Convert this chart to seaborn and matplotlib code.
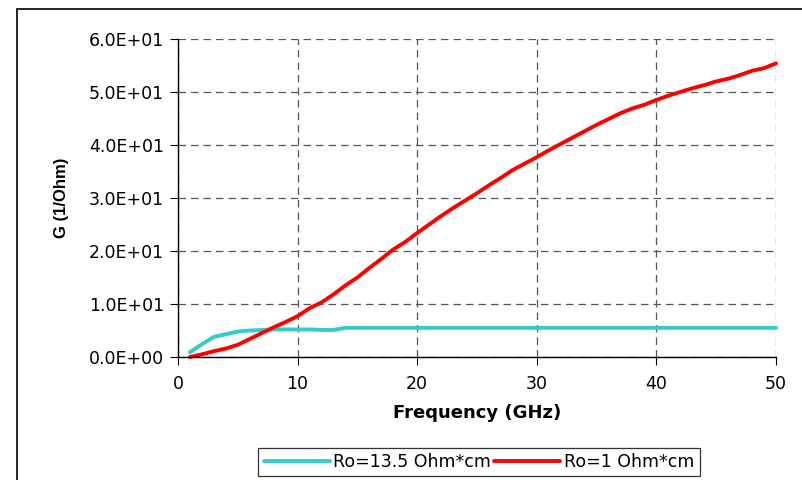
import numpy as np
import pandas as pd
import matplotlib
matplotlib.use("Agg")
import matplotlib.pyplot as plt
import seaborn as sns
from matplotlib.patches import Rectangle
from matplotlib.ticker import FuncFormatter

# Frequency points (GHz)
freq = list(range(1, 51))

# Ro = 13.5 Ohm*cm
g_high = [0.9, 2.4, 3.8, 4.3, 4.8, 5.0, 5.1, 5.2, 5.2, 5.2,
          5.2, 5.1, 5.1, 5.5, 5.5, 5.5, 5.5, 5.5, 5.5, 5.5,
          5.5, 5.5, 5.5, 5.5, 5.5, 5.5, 5.5, 5.5, 5.5, 5.5,
          5.5, 5.5, 5.5, 5.5, 5.5, 5.5, 5.5, 5.5, 5.5, 5.5,
          5.5, 5.5, 5.5, 5.5, 5.5, 5.5, 5.5, 5.5, 5.5, 5.5]

# Ro = 1 Ohm*cm
g_low = [0.0, 0.5, 1.1, 1.6, 2.3, 3.4, 4.5, 5.6, 6.6, 7.7,
         9.2, 10.3, 11.8, 13.5, 15.0, 16.8, 18.5, 20.3, 21.7, 23.4,
         25.0, 26.6, 28.1, 29.5, 30.9, 32.4, 33.8, 35.3, 36.5, 37.7,
         39.0, 40.2, 41.4, 42.6, 43.8, 44.9, 46.0, 46.9, 47.6, 48.5,
         49.3, 50.0, 50.7, 51.3, 52.0, 52.5, 53.2, 54.0, 54.5, 55.4]

labels = ["Ro=13.5 Ohm*cm", "Ro=1 Ohm*cm"]
colors = ["#33CCCC", "#FF0000"]

df = pd.concat([
    pd.DataFrame({"f": freq, "G": g_high, "series": labels[0]}),
    pd.DataFrame({"f": freq, "G": g_low, "series": labels[1]}),
])

sns.set_style("white")
plt.rcParams["font.family"] = ["DejaVu Sans"]
plt.rcParams.update({"text.color": "black", "axes.labelcolor": "black",
                     "xtick.color": "black", "ytick.color": "black"})

fig = plt.figure(figsize=(8.02, 4.80), dpi=100)
W, H = 802, 480
ax = fig.add_axes([178 / W, 1 - 357 / H, (776 - 178) / W, (357 - 39) / H])

# outer chart frame
fig.patches.append(Rectangle((17 / W, -0.05), 1.2, 1 - 9 / H + 0.05,
                             transform=fig.transFigure, fill=False,
                             edgecolor="black", linewidth=1.2))

sns.lineplot(data=df, x="f", y="G", hue="series", palette=colors,
             linewidth=2.8, ax=ax, legend=False, clip_on=False)

ax.set_xlim(0, 50)
ax.set_ylim(0, 60)
ax.set_xticks([0, 10, 20, 30, 40, 50])
ax.set_yticks(np.arange(0, 61, 10))
ax.yaxis.set_major_formatter(FuncFormatter(lambda v, p: "{:.1E}".format(v)))

ax.grid(True, color="#555555", linestyle=(0, (6, 4)), linewidth=0.9)
ax.set_axisbelow(True)
for s in ["top", "right"]:
    ax.spines[s].set_visible(False)
for s in ["left", "bottom"]:
    ax.spines[s].set_color("black")
    ax.spines[s].set_linewidth(1.0)

ax.tick_params(axis="both", labelsize=12.5, length=6, color="black",
               labelcolor="black", direction="out", bottom=True, left=True,
               pad=4)
ax.tick_params(axis="x", pad=7)
ax.set_xlabel("Frequency (GHz)", fontsize=13, fontweight="bold", labelpad=8,
              color="black")
ax.set_ylabel("G (1/Ohm)", fontsize=12, fontweight="bold", labelpad=14,
              family="Liberation Sans", color="black")

handles = [plt.Line2D([], [], color=c, linewidth=2.8) for c in colors]
leg = fig.legend(handles, labels, loc="center", ncol=2,
                 bbox_to_anchor=(479 / W, 1 - 462 / H), fontsize=12.5,
                 frameon=True, fancybox=False, edgecolor="black",
                 handlelength=3.8, handletextpad=0.2, columnspacing=0.2,
                 borderpad=0.3, labelcolor="black")
leg.get_frame().set_linewidth(0.9)

fig.savefig("out.png", dpi=100)
